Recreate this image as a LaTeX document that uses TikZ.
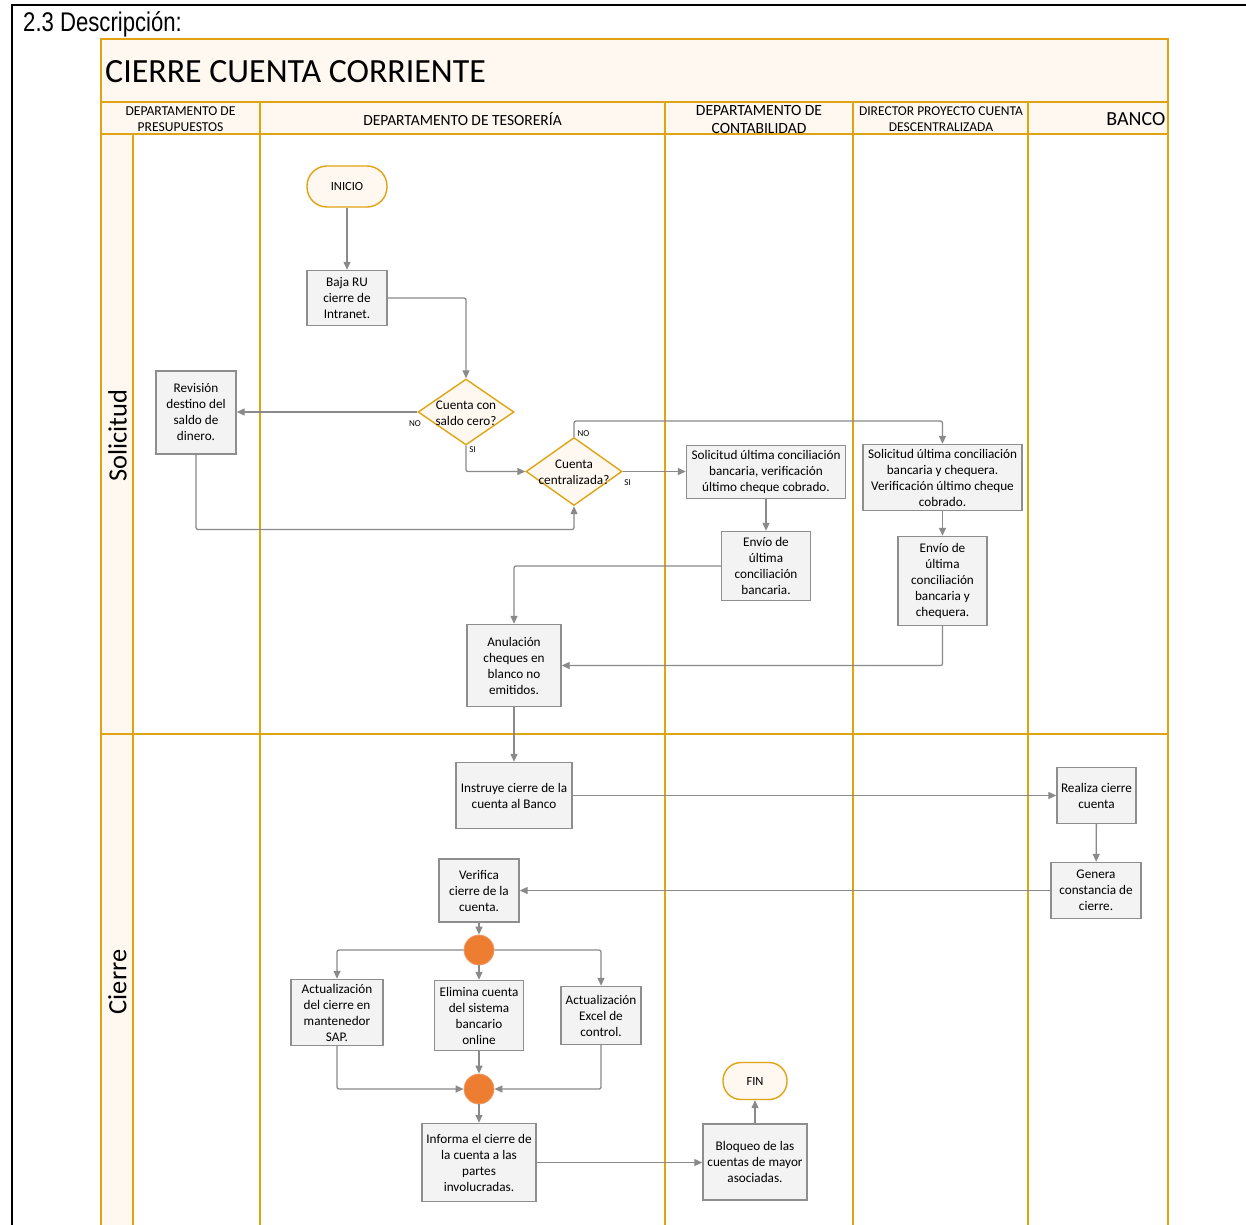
\documentclass[tikz,border=0pt]{standalone}
\usepackage{fontspec}
\setmainfont{Carlito}
\newfontfamily\narrowfont[FakeStretch=0.82]{Liberation Sans}
\usetikzlibrary{shapes.geometric,arrows.meta}

\definecolor{lanegold}{HTML}{E0A413}
\definecolor{lanecream}{HTML}{FFF8F1}
\definecolor{boxfill}{HTML}{F3F3F3}
\definecolor{boxline}{HTML}{8E8E8E}
\definecolor{flowgray}{HTML}{8A8A8A}
\definecolor{joinorange}{HTML}{ED7D31}
\definecolor{joinedge}{HTML}{F0A070}

\newcommand{\fs}[2]{\fontsize{#1}{#2}\selectfont}

\tikzset{
  lane/.style={draw=lanegold, line width=1.6pt},
  proc/.style={rectangle, draw=boxline, fill=boxfill, line width=1.4pt,
               inner sep=0pt, align=center, font=\fs{13.2}{16}},
  term/.style={rectangle, draw=lanegold, fill=lanecream, line width=1.4pt,
               inner sep=0pt, align=center, font=\fs{12.5}{15}},
  decision/.style={diamond, draw=lanegold, fill=lanecream, line width=1.4pt,
               inner sep=0pt},
  dtext/.style={align=center, font=\fs{13.2}{16}, inner sep=0pt},
  joindot/.style={circle, fill=joinorange, draw=joinedge, line width=0.8pt,
               minimum size=30pt, inner sep=0pt},
  flow/.style={draw=flowgray, line width=1.3pt, rounded corners=2pt,
               -{Triangle[length=8pt,width=7pt]}},
  tag/.style={font=\fs{9}{10}, inner sep=0pt},
  hdr/.style={align=center, inner sep=0pt},
}

\begin{document}
\begin{tikzpicture}[x=1pt, y=-1pt]
\clip (0,0) rectangle (1246,1224);
\fill[white] (0,0) rectangle (1246,1224);

% page frame and heading
\draw[black, line width=2.4pt] (12,1230) -- (12,5) -- (1250,5);
\node[anchor=base west, inner sep=0pt, font=\narrowfont\fs{27}{30}] (heading) at (23,31) {2.3 Descripción:};

% pool backgrounds
\fill[lanecream] (101,39) rectangle (1168,134);
\fill[lanecream] (101,134) rectangle (133,1232);

% pool lines
\draw[lane] (101,1232) -- (101,39) -- (1168,39) -- (1168,1232);
\draw[lane] (101,102) -- (1168,102);
\draw[lane] (101,134) -- (1168,134);
\draw[lane] (101,734) -- (1168,734);
\draw[lane] (133,134) -- (133,1232);
\foreach \xx in {260,665,853,1028} \draw[lane] (\xx,102) -- (\xx,1232);

% titles
\node[anchor=base west, inner sep=0pt, font=\fs{33.9}{36}] (title) at (105,82) {CIERRE CUENTA CORRIENTE};
\node[hdr, font=\fs{13.6}{16}] (hpres) at (180.5,119) {DEPARTAMENTO DE\\PRESUPUESTOS};
\node[hdr, font=\fs{15.5}{18}] (htes) at (462.5,119.5) {DEPARTAMENTO DE TESORERÍA};
\node[hdr, font=\fs{15.6}{18}] (hcont) at (759,119) {DEPARTAMENTO DE\\CONTABILIDAD};
\node[hdr, font=\fs{13.5}{16}] (hdir) at (941,119.5) {DIRECTOR PROYECTO CUENTA\\DESCENTRALIZADA};
\node[hdr, anchor=east, font=\fs{20}{21}] (hbanco) at (1165.5,119.5) {BANCO};
\node[rotate=90, inner sep=0pt, font=\fs{26.4}{28}] (lsol) at (117.5,436) {Solicitud};
\node[rotate=90, inner sep=0pt, font=\fs{26.4}{28}] (lcie) at (117.5,982) {Cierre};

% ---- Solicitud lane ----
\node[term, minimum width=80pt, minimum height=41pt, rounded corners=20pt] (inicio) at (347,186.5) {INICIO};
\node[proc, minimum width=80pt, minimum height=55pt] (baja) at (347,298) {Baja RU\\cierre de\\Intranet.};
\node[decision, minimum width=96pt, minimum height=66pt] (d1) at (466,412) {};
\node[dtext] (d1t) at (466,413) {Cuenta con\\saldo cero?};
\node[proc, minimum width=80pt, minimum height=83pt] (rev) at (196,412.5) {Revisión\\destino del\\saldo de\\dinero.};
\node[decision, minimum width=96pt, minimum height=68pt] (d2) at (574,471.5) {};
\node[dtext] (d2t) at (574,472.5) {Cuenta\\centralizada?};
\node[proc, minimum width=159pt, minimum height=53pt] (solc) at (766,472) {Solicitud última conciliación\\bancaria, verificación\\último cheque cobrado.};
\node[proc, minimum width=159pt, minimum height=66pt] (sold) at (942.5,477.5) {Solicitud última conciliación\\bancaria y chequera.\\Verificación último cheque\\cobrado.};
\node[proc, minimum width=89pt, minimum height=69pt] (envc) at (766,566) {Envío de\\última\\conciliación\\bancaria.};
\node[proc, minimum width=89pt, minimum height=89pt] (envd) at (942.5,581) {Envío de\\última\\conciliación\\bancaria y\\chequera.};
\node[proc, minimum width=94pt, minimum height=82pt] (anul) at (514,665.5) {Anulación\\cheques en\\blanco no\\emitidos.};

% ---- Cierre lane ----
\node[proc, minimum width=116pt, minimum height=66pt] (instr) at (514,795.5) {Instruye cierre de la\\cuenta al Banco};
\node[proc, minimum width=79pt, minimum height=56pt] (real) at (1096.5,795.5) {Realiza cierre\\cuenta};
\node[proc, minimum width=90pt, minimum height=56pt] (gen) at (1096,890.5) {Genera\\constancia de\\cierre.};
\node[proc, minimum width=80pt, minimum height=63pt] (verif) at (479,890.5) {Verifica\\cierre de la\\cuenta.};
\node[joindot] (j1) at (479,950) {};
\node[proc, minimum width=92pt, minimum height=66pt] (sap) at (337,1012.5) {Actualización\\del cierre en\\mantenedor\\SAP.};
\node[proc, minimum width=89pt, minimum height=70pt] (elim) at (479,1015.5) {Elimina cuenta\\del sistema\\bancario\\online};
\node[proc, minimum width=80pt, minimum height=58pt] (excel) at (601,1015.5) {Actualización\\Excel de\\control.};
\node[joindot] (j2) at (479,1089) {};
\node[proc, minimum width=114pt, minimum height=78pt] (inf) at (479,1162.5) {Informa el cierre de\\la cuenta a las\\partes\\involucradas.};
\node[proc, minimum width=104pt, minimum height=76pt] (bloq) at (755,1162) {Bloqueo de las\\cuentas de mayor\\asociadas.};
\node[term, minimum width=64pt, minimum height=37pt, rounded corners=18pt] (fin) at (755,1081) {FIN};

% bend points
\coordinate (jrev) at (574,529.5);
\coordinate (jno) at (574,421);

% ---- connectors ----
\draw[flow] (inicio) -- (baja);
\draw[flow] (baja.east) -| (d1.north);
\draw[flow] (d1.west) -- (rev.east |- d1.west);
\draw[flow] (d1.south) |- (d2.west);
\draw[flow] (rev.south) |- (jrev) -- (d2.south);
\draw[flow] (d2.east) -- (solc.west |- d2.east);
\draw[flow] (d2.north) -- (jno) -| (sold.north);
\draw[flow] (solc) -- (envc);
\draw[flow] (sold) -- (envd);
\draw[flow] (envc.west) -| (anul.north);
\draw[flow] (envd.south) |- (anul.east);
\draw[flow] (anul) -- (instr);
\draw[flow] (instr.east) -- (real.west);
\draw[flow] (real) -- (gen);
\draw[flow] (gen.west) -- (verif.east);
\draw[flow] (verif) -- (j1);
\draw[flow] (j1.west) -| (sap.north);
\draw[flow] (j1) -- (elim);
\draw[flow] (j1.east) -| (excel.north);
\draw[flow] (sap.south) |- (j2.west);
\draw[flow] (elim) -- (j2);
\draw[flow] (excel.south) |- (j2.east);
\draw[flow] (j2) -- (inf);
\draw[flow] (inf.east) -- (bloq.west |- inf.east);
\draw[flow] (bloq) -- (fin);

% branch labels
\node[tag] (no1) at (415,423.5) {NO};
\node[tag] (si1) at (472.5,449.5) {SI};
\node[tag] (si2) at (627.5,483) {SI};
\node[tag] (no2) at (583.5,433.5) {NO};
\end{tikzpicture}
\end{document}
